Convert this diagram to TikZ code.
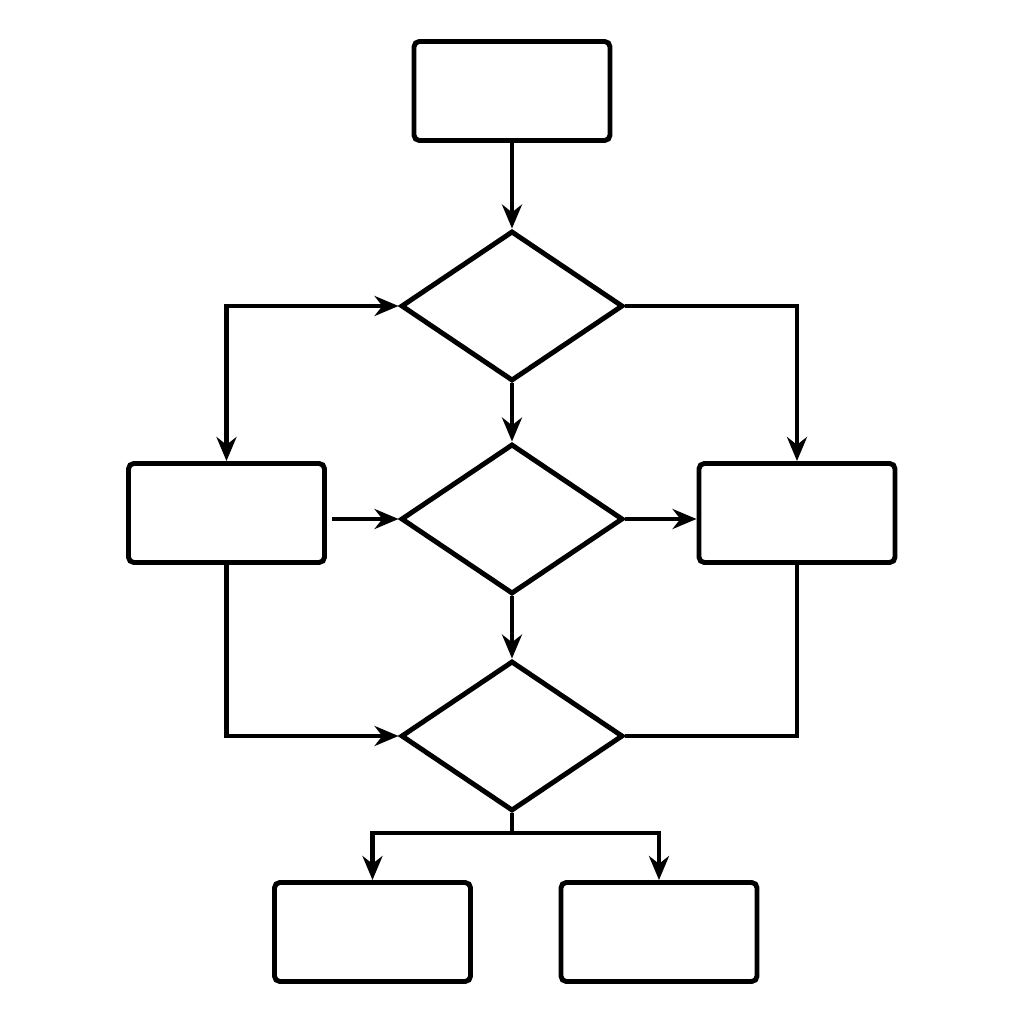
\documentclass[tikz,border=0pt]{standalone}
\usetikzlibrary{shapes.geometric,arrows.meta}
\begin{document}
\begin{tikzpicture}[
  box/.style={draw,line width=1.4pt,rounded corners=1.5pt,minimum width=1.96cm,minimum height=0.99cm,inner sep=0pt},
  dia/.style={draw,diamond,line width=1.4pt,minimum width=2.22cm,minimum height=1.5cm,inner sep=0pt},
  ln/.style={line width=1.4pt},
  arr/.style={ln,-{Stealth[length=0.24cm,width=0.2cm]}},
  barr/.style={ln,{Stealth[length=0.24cm,width=0.2cm]}-{Stealth[length=0.24cm,width=0.2cm]}}
]
\useasboundingbox (0,0) rectangle (10.24,10.24);
\node[box] (top) at (5.12,9.33) {};
\node[dia] (d1) at (5.12,7.18) {};
\node[dia] (d2) at (5.12,5.05) {};
\node[dia] (d3) at (5.12,2.88) {};
\node[box] (lr) at (2.265,5.11) {};
\node[box] (rr) at (7.97,5.11) {};
\node[box] (bl) at (3.725,0.92) {};
\node[box] (br) at (6.59,0.92) {};
\coordinate (split) at (5.12,1.91);
\draw[arr] (top) -- (d1.north);
\draw[barr] (lr.north) |- (d1.west);
\draw[arr] (d1.east) -| (rr.north);
\draw[arr] (d1.south) -- (d2.north);
\draw[arr] (lr.east |- d2.west) ++(0.05,0) -- (d2.west);
\draw[arr] (d2.east) -- (rr.west |- d2.east);
\draw[arr] (d2.south) -- (d3.north);
\draw[arr] (lr.south) |- (d3.west);
\draw[ln] (rr.south) |- (d3.east);
\draw[ln] (d3.south) -- (split);
\draw[arr] (split) -| (bl.north);
\draw[arr] (split) -| (br.north);
\end{tikzpicture}
\end{document}
